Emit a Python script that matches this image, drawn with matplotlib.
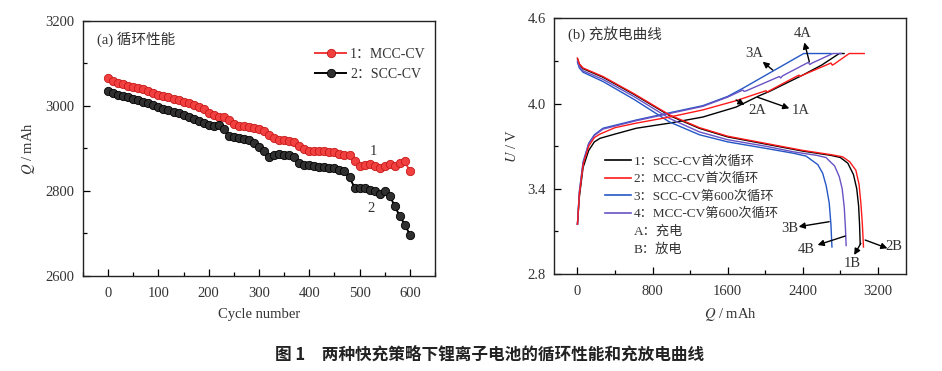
import numpy as np
import matplotlib
matplotlib.use("Agg")
import matplotlib.pyplot as plt
from matplotlib.lines import Line2D
from matplotlib.ticker import MultipleLocator, FixedLocator, FormatStrFormatter

plt.rcParams['font.family'] = ['Liberation Serif', 'Noto Sans CJK SC']
plt.rcParams['mathtext.fontset'] = 'stix'
plt.rcParams['axes.unicode_minus'] = False

# (a) cycle performance, every 10 cycles
cycles = list(range(0, 601, 10))
q_mcc = [3065, 3059, 3055, 3051, 3047, 3044, 3042, 3039, 3035, 3031,
         3027, 3024, 3021, 3017, 3014, 3010, 3006, 3002, 2997, 2992,
         2984, 2979, 2975, 2973, 2967, 2958, 2953, 2952, 2950, 2949,
         2947, 2940, 2932, 2924, 2920, 2920, 2918, 2916, 2906, 2898,
         2895, 2895, 2895, 2893, 2892, 2891, 2888, 2885, 2884, 2870,
         2858, 2860, 2863, 2858, 2854, 2858, 2864, 2859, 2866, 2870,
         2846]
q_scc = [3036, 3031, 3027, 3023, 3020, 3017, 3015, 3010, 3006, 3002,
         2998, 2994, 2991, 2987, 2983, 2979, 2975, 2969, 2965, 2959,
         2955, 2954, 2955, 2945, 2930, 2926, 2924, 2923, 2919, 2913,
         2904, 2893, 2881, 2885, 2887, 2885, 2884, 2880, 2866, 2860,
         2860, 2859, 2857, 2856, 2855, 2853, 2850, 2846, 2832, 2808,
         2806, 2806, 2803, 2799, 2794, 2801, 2789, 2764, 2741, 2721,
         2697]

# (b) charge / discharge curves (Q mAh, U V)
chg1_q = [0, 20, 60, 120, 180, 240, 400, 627, 982, 1336, 1690, 1937, 2045, 2399, 2600, 2789, 2840]
chg1_u = [3.15, 3.34, 3.55, 3.67, 3.73, 3.755, 3.785, 3.826, 3.862, 3.905, 3.975, 4.055, 4.085, 4.20, 4.27, 4.352, 4.352]
dis1_q = [0, 20, 60, 272, 600, 981, 1300, 1600, 2000, 2400, 2700, 2800, 2880, 2940, 2975, 2995, 3005, 3012]
dis1_u = [4.315, 4.275, 4.245, 4.185, 4.065, 3.915, 3.825, 3.765, 3.715, 3.665, 3.635, 3.62, 3.58, 3.50, 3.40, 3.28, 3.15, 3.01]

chg2_q = [0, 20, 60, 120, 180, 240, 400, 627, 982, 1336, 1690, 1937, 2010, 2020, 2045, 2292,
          2360, 2370, 2400, 2700, 2715, 2740, 2895, 3055]
chg2_u = [3.15, 3.36, 3.57, 3.70, 3.76, 3.785, 3.83, 3.862, 3.905, 3.955, 4.02, 4.075, 4.09, 4.08, 4.09, 4.177,
          4.20, 4.19, 4.20, 4.285, 4.27, 4.28, 4.352, 4.352]
dis2_q = [0, 20, 60, 272, 600, 981, 1300, 1600, 2000, 2400, 2700, 2824, 2900, 2966, 3000, 3019, 3035, 3047]
dis2_u = [4.32, 4.28, 4.25, 4.19, 4.07, 3.92, 3.83, 3.77, 3.72, 3.67, 3.64, 3.625, 3.59, 3.53, 3.43, 3.30, 3.15, 2.99]

chg3_q = [0, 20, 60, 120, 180, 272, 627, 982, 1336, 1600, 1761, 2410, 2700]
chg3_u = [3.15, 3.38, 3.59, 3.72, 3.78, 3.826, 3.884, 3.935, 3.985, 4.05, 4.107, 4.352, 4.352]
dis3_q = [0, 20, 60, 272, 600, 981, 1300, 1600, 2000, 2300, 2435, 2560, 2612, 2650, 2682, 2700, 2711]
dis3_u = [4.29, 4.25, 4.22, 4.155, 4.03, 3.87, 3.78, 3.73, 3.685, 3.65, 3.63, 3.57, 3.51, 3.42, 3.30, 3.15, 2.99]

chg4_q = [0, 20, 60, 120, 180, 272, 627, 982, 1336, 1600, 1761, 1775, 1800, 2150, 2165, 2185,
          2460, 2475, 2500, 2720, 2810]
chg4_u = [3.15, 3.37, 3.58, 3.715, 3.775, 3.82, 3.879, 3.93, 3.98, 4.045, 4.095, 4.085, 4.09, 4.19, 4.18, 4.195,
          4.29, 4.275, 4.285, 4.352, 4.352]
dis4_q = [0, 20, 60, 272, 600, 981, 1300, 1600, 2000, 2300, 2550, 2647, 2740, 2789, 2820, 2842, 2855, 2862]
dis4_u = [4.30, 4.26, 4.23, 4.17, 4.05, 3.895, 3.80, 3.745, 3.70, 3.66, 3.635, 3.62, 3.56, 3.485, 3.40, 3.27, 3.12, 3.00]

c_blk, c_red, c_blu, c_pur = '#000000', '#ff1a1a', '#2457c5', '#6a52c4'

fig = plt.figure(figsize=(9.42, 3.71), dpi=100)
ax1 = fig.add_axes([0.0881, 0.2561, 0.3737, 0.6873])
ax2 = fig.add_axes([0.5881, 0.2615, 0.3737, 0.6892])

# ---- (a)
ax1.plot(cycles, q_mcc, '-o', color='#f03a3a', mfc='#f04040', mec='#c81818',
         ms=6, mew=0.6, lw=1.4, label='1：MCC-CV', zorder=3)
ax1.plot(cycles, q_scc, '-o', color='#000000', mfc='#303030', mec='#000000',
         ms=6, mew=0.6, lw=1.4, label='2：SCC-CV', zorder=3)
ax1.set_xlim(-50, 650)
ax1.set_ylim(2600, 3200)
ax1.xaxis.set_major_locator(MultipleLocator(100))
ax1.xaxis.set_minor_locator(MultipleLocator(50))
ax1.yaxis.set_major_locator(MultipleLocator(200))
ax1.yaxis.set_minor_locator(MultipleLocator(100))
ax1.set_xlabel('Cycle number', fontsize=10.5, color='#333333', labelpad=6)
ax1.set_ylabel('$Q$ / mAh', fontsize=10.5, color='#333333', labelpad=6)
ax1.text(0.04, 0.93, '(a) 循环性能', transform=ax1.transAxes, fontsize=10.5,
         color='#333333', va='center')
ax1.text(527, 2893, '1', fontsize=10.5, color='#333333', ha='center', va='center')
ax1.text(522, 2759, '2', fontsize=10.5, color='#333333', ha='center', va='center')
ax1.legend(loc='upper left', bbox_to_anchor=(0.64, 0.92), frameon=False, fontsize=10,
           handlelength=2.2, handletextpad=0.3, labelspacing=0.45, borderpad=0,
           labelcolor='#333333')

# ---- (b)
ax2.plot(chg1_q, chg1_u, color=c_blk, lw=1.0)
ax2.plot(dis1_q, dis1_u, color=c_blk, lw=1.0)
ax2.plot(chg3_q, chg3_u, color=c_blu, lw=1.0)
ax2.plot(dis3_q, dis3_u, color=c_blu, lw=1.0)
ax2.plot(chg4_q, chg4_u, color=c_pur, lw=1.0)
ax2.plot(dis4_q, dis4_u, color=c_pur, lw=1.0)
ax2.plot(chg2_q, chg2_u, color=c_red, lw=1.0)
ax2.plot(dis2_q, dis2_u, color=c_red, lw=1.0)
ax2.set_xlim(-250, 3500)
ax2.set_ylim(2.8, 4.6)
ax2.xaxis.set_major_locator(MultipleLocator(800))
ax2.xaxis.set_minor_locator(MultipleLocator(400))
ax2.yaxis.set_major_locator(FixedLocator([2.8, 3.4, 4.0, 4.6]))
ax2.yaxis.set_minor_locator(FixedLocator([3.1, 3.7, 4.3]))
ax2.yaxis.set_major_formatter(FormatStrFormatter('%.1f'))
ax2.set_xlabel('$Q$ / mAh', fontsize=10.5, color='#333333', labelpad=6)
ax2.set_ylabel('$U$ / V', fontsize=10.5, color='#333333', labelpad=6)
ax2.text(0.04, 0.94, '(b) 充放电曲线', transform=ax2.transAxes, fontsize=10.5,
         color='#333333', va='center')

ann = [('4A', (2398, 4.494), (2470, 4.294), (2417, 4.43)),
       ('3A', (1885, 4.354), (2080, 4.236), (1973, 4.294)),
       ('2A', (1920, 3.954), (1690, 4.025), (1779, 3.99)),
       ('1A', (2381, 3.954), (1920, 4.044), (2257, 3.966)),
       ('3B', (2257, 3.122), (2682, 3.168), (2356, 3.133)),
       ('4B', (2435, 2.969), (2852, 3.067), (2558, 3.004)),
       ('1B', (2930, 2.875), (3019, 3.016), (2948, 2.934)),
       ('2B', (3373, 2.992), (3065, 3.039), (3302, 2.981))]
for lab, txy, tail, head in ann:
    ax2.text(txy[0], txy[1], lab, fontsize=10.5, color='#333333', ha='center', va='center')
    ax2.annotate('', xy=head, xytext=tail,
                 arrowprops=dict(arrowstyle='-|>', color='black', lw=1.0,
                                 mutation_scale=9, shrinkA=0, shrinkB=0))

handles = [Line2D([], [], color=c_blk, lw=1.2), Line2D([], [], color=c_red, lw=1.2),
           Line2D([], [], color=c_blu, lw=1.2), Line2D([], [], color=c_pur, lw=1.2),
           Line2D([], [], color='none'), Line2D([], [], color='none')]
labels = ['1：SCC-CV首次循环', '2：MCC-CV首次循环', '3：SCC-CV第600次循环',
          '4：MCC-CV第600次循环', 'A：充电', 'B：放电']
ax2.legend(handles, labels, loc='upper left', bbox_to_anchor=(0.125, 0.49), frameon=False,
           fontsize=9.5, handlelength=2.0, handletextpad=0.2, labelspacing=0.4,
           borderpad=0, labelcolor='#333333')

for ax in (ax1, ax2):
    ax.tick_params(which='both', direction='in', top=False, right=False,
                   labelsize=10.5, labelcolor='#333333')
    ax.tick_params(which='major', length=5, width=0.9)
    ax.tick_params(which='minor', length=3, width=0.9)
    ax.tick_params(axis='x', pad=8)
    ax.tick_params(axis='y', pad=6)
    for s in ax.spines.values():
        s.set_linewidth(1.0)
        s.set_color('#222222')

fig.text(0.52, 0.043, '图 1　两种快充策略下锂离子电池的循环性能和充放电曲线',
         ha='center', va='center', fontsize=12, fontweight='bold',
         family=['Noto Sans CJK SC'], color='#222222')

fig.savefig('out.png', dpi=100)
